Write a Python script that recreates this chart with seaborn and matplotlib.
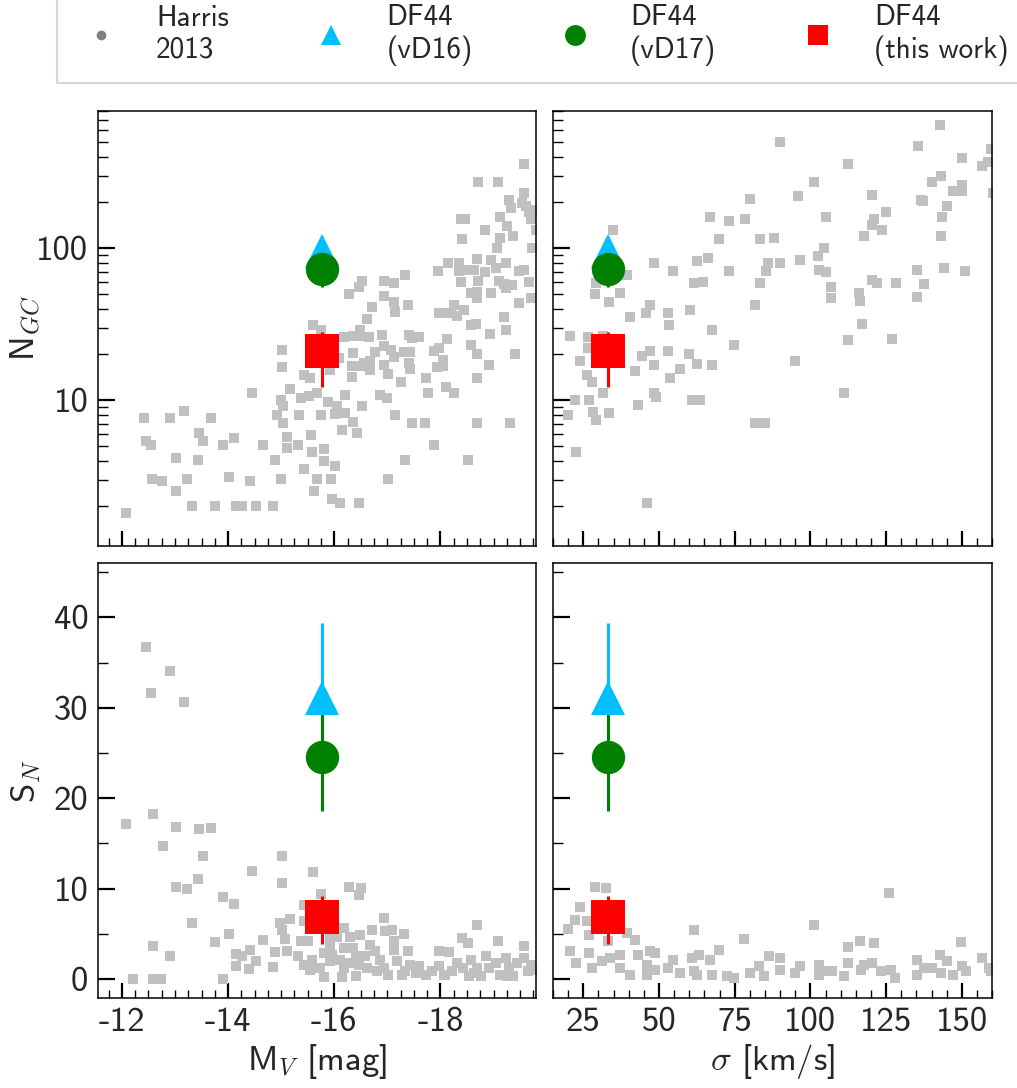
import numpy as np
import pandas as pd
import matplotlib
matplotlib.use("Agg")
import matplotlib.pyplot as plt
import seaborn as sns
from matplotlib.lines import Line2D
from matplotlib.ticker import MultipleLocator, LogLocator, NullFormatter

# Harris 2013 catalogue: (M_V, N_GC)
harris_mv_ngc = [
    (-12.08, 1.82), (-12.42, 7.66), (-12.91, 7.66), (-13.16, 8.55), (-13.68, 7.6), (-12.45, 5.38),
    (-12.55, 5.07), (-13.45, 6.1), (-13.52, 5.38), (-13.90, 5.07), (-14.12, 5.66), (-13.01, 4.14),
    (-13.44, 4.06), (-12.57, 3.03), (-12.76, 2.94), (-13.23, 3.03), (-13.01, 2.53), (-13.32, 2.01),
    (-13.76, 2.01), (-14.14, 2.01), (-14.26, 2.01), (-14.52, 2.01), (-14.84, 2.01), (-14.02, 3.14),
    (-14.42, 2.94), (-14.66, 5.07), (-14.45, 11.2), (-14.89, 4.06), (-15.0, 3.03), (-15.02, 21.3),
    (-15.02, 16.6), (-15.16, 11.8), (-15.0, 10.1), (-15.04, 9.2), (-14.93, 8.05), (-15.04, 7.1),
    (-15.10, 5.74), (-15.10, 4.82), (-15.31, 5.07), (-15.34, 8.05), (-15.37, 10.3), (-15.53, 10.6),
    (-15.68, 11.2), (-15.56, 5.9), (-15.58, 4.56), (-15.80, 4.80), (-15.80, 3.98), (-15.42, 3.54),
    (-15.67, 3.03), (-15.93, 3.03), (-16.02, 3.67), (-15.61, 2.53), (-15.95, 2.23), (-16.11, 2.12),
    (-16.46, 2.12), (-15.75, 8.05), (-15.89, 9.8), (-16.05, 9.2), (-16.02, 8.1), (-16.21, 8.3),
    (-16.15, 6.4), (-16.36, 7.2), (-16.42, 6.1), (-16.21, 10.9), (-16.53, 9.2), (-15.60, 31.4),
    (-15.75, 29.1), (-15.42, 14.7), (-15.55, 14.0), (-15.92, 15.7), (-16.08, 19.1), (-16.18, 26.1),
    (-16.36, 26.4), (-16.49, 29.1), (-16.46, 26.4), (-16.36, 20.5), (-16.33, 16.7), (-16.33, 14.2),
    (-16.49, 16.7), (-16.55, 17.6), (-16.68, 15.7), (-16.68, 18.0), (-16.66, 26.1), (-16.28, 49.9),
    (-16.46, 55.2), (-16.52, 61.1), (-16.71, 40.8), (-16.62, 34.4), (-16.94, 60.5), (-17.12, 59.5),
    (-16.94, 48.4), (-17.12, 44.2), (-17.15, 37.8), (-17.34, 66.3), (-17.38, 42.4), (-16.89, 26.7),
    (-16.93, 22.6), (-17.06, 21.3), (-16.77, 20.9), (-16.93, 17.1), (-17.02, 14.9), (-17.12, 19.4),
    (-17.25, 13.1), (-16.87, 10.8), (-17.0, 10.3), (-17.15, 8.05), (-17.40, 27.0), (-17.47, 25.6),
    (-17.59, 26.0), (-17.31, 20.9), (-17.43, 20.9), (-17.41, 17.6), (-17.43, 16.1), (-17.47, 7.1),
    (-17.71, 7.1), (-17.33, 4.06), (-17.01, 3.03), (-17.73, 14.0), (-17.76, 11.2), (-17.88, 5.07),
    (-17.87, 21.2), (-17.97, 22.1), (-18.05, 18.5), (-17.94, 16.5), (-18.05, 16.7), (-18.13, 25.4),
    (-18.11, 12.2), (-18.25, 11.2), (-17.97, 37.4), (-18.06, 37.4), (-18.19, 37.4), (-18.25, 42.4),
    (-18.32, 35.6), (-18.44, 39.0), (-17.96, 70.4), (-18.15, 79.8), (-18.35, 80.5), (-18.35, 70.4),
    (-18.47, 72.0), (-18.63, 72.0), (-18.39, 59.8), (-18.57, 50.7), (-18.69, 51.9), (-18.69, 47.0),
    (-18.95, 50.7), (-18.69, 84.7), (-18.95, 83.9), (-19.04, 74.0), (-18.84, 69.9), (-19.23, 79.8),
    (-19.10, 60.5), (-19.20, 58.0), (-19.34, 57.4), (-19.23, 54.6), (-19.47, 71.0), (-19.58, 72.0),
    (-19.67, 59.8), (-19.47, 43.4), (-19.70, 47.0), (-19.20, 35.2), (-19.23, 29.1), (-18.93, 27.2),
    (-18.58, 31.4), (-18.66, 31.7), (-18.58, 23.2), (-18.69, 20.2), (-18.91, 17.1), (-18.69, 14.0),
    (-19.40, 20.2), (-18.68, 7.1), (-19.31, 7.1), (-18.52, 4.06), (-18.41, 115), (-18.47, 156),
    (-18.38, 155), (-18.84, 131), (-19.13, 160), (-19.12, 116), (-19.26, 141), (-19.36, 120),
    (-19.06, 100), (-18.71, 274), (-19.08, 271), (-19.58, 361), (-19.29, 208), (-19.32, 183),
    (-19.58, 230), (-19.54, 197), (-19.61, 190), (-19.67, 174), (-19.70, 155), (-19.76, 179),
    (-19.73, 100), (-19.80, 132), (-18.71, 60.5),
]

# Harris 2013: (sigma, N_GC)
harris_sig_ngc = [
    (34.9, 131), (48.4, 79.8), (54.6, 70.4), (62.7, 83.0), (66.3, 86.0), (61.6, 58.9), (64.5, 59.8),
    (67.0, 161), (73.1, 150), (78.3, 155), (69.8, 115), (79.9, 210), (90.1, 501), (83.5, 115),
    (87.9, 116), (73.1, 70.4), (86.0, 80.5), (90.1, 79.8), (85.4, 71.3), (83.2, 58.7), (81.8, 42.3),
    (67.4, 29.1), (74.6, 23.1), (67.5, 17.1), (62.5, 17.3), (59.9, 20.1), (57.0, 16.1), (53.5, 14.1),
    (53.0, 21.2), (53.2, 31.3), (53.0, 37.4), (60.3, 39.0), (47.1, 42.3), (45.7, 37.4), (40.4, 35.2),
    (47.1, 21.2), (44.5, 19.6), (48.2, 17.1), (42.1, 15.6), (48.4, 11.2), (49.1, 10.5), (43.0, 9.3),
    (60.8, 10.0), (63.4, 10.0), (33.6, 8.2), (29.1, 7.4), (28.1, 8.4), (27.0, 10.0), (22.1, 10.0),
    (19.8, 8.05), (22.5, 4.56), (31.4, 11.2), (27.8, 13.1), (26.1, 14.7), (23.9, 18.1), (20.7, 26.6),
    (26.7, 26.1), (26.7, 22.1), (31.4, 26.6), (28.9, 50.1), (33.6, 44.0), (37.1, 50.7), (39.3, 66.8),
    (29.2, 59.5), (46.1, 2.12), (81.8, 7.1), (85.1, 7.1), (95.0, 18.2), (96.0, 219), (101.3, 274),
    (96.5, 83.8), (102.5, 89.5), (104.6, 100), (102.8, 72.0), (105.2, 69.6), (106.7, 55.2),
    (106.9, 47.0), (105.1, 161), (112.5, 361), (111.1, 11.2), (112.4, 25.0), (116.0, 50.7),
    (116.4, 45.3), (116.9, 31.7), (117.7, 120), (120.2, 224), (120.2, 142), (121.0, 156),
    (123.6, 132), (125.1, 174), (120.5, 62.0), (122.1, 59.5), (128.2, 59.5), (127.0, 25.3),
    (135.1, 72.0), (135.1, 48.1), (137.5, 58.0), (135.6, 470), (142.8, 649), (150.2, 393),
    (140.3, 274), (143.0, 300), (147.2, 238), (150.2, 260), (150.2, 239), (137.3, 205), (136.4, 208),
    (145.0, 191), (143.4, 161), (143.0, 120), (144.1, 74.0), (151.1, 71.3), (156.8, 347),
    (158.8, 370), (159.6, 447), (160.4, 230),
]

# Harris 2013: (M_V, S_N)
harris_mv_sn = [
    (-12.45, 36.7), (-12.91, 34.1), (-12.55, 31.6), (-13.16, 30.6), (-12.08, 17.1), (-12.58, 18.2),
    (-13.01, 16.8), (-13.45, 16.6), (-13.68, 16.7), (-12.77, 14.7), (-13.52, 13.6), (-13.01, 10.2),
    (-13.23, 10.0), (-13.44, 11.1), (-13.32, 6.2), (-12.58, 3.65), (-12.91, 2.6), (-12.21, 0.0),
    (-12.59, 0.0), (-12.74, 0.0), (-13.91, 0.0), (-13.90, 9.07), (-14.12, 8.33), (-13.75, 4.1),
    (-14.02, 5.0), (-14.45, 12.0), (-15.02, 13.6), (-15.02, 10.6), (-15.60, 11.8), (-15.75, 9.4),
    (-16.28, 10.2), (-16.51, 10.1), (-16.46, 9.3), (-14.66, 4.35), (-14.42, 3.2), (-14.52, 2.0),
    (-14.14, 2.8), (-14.26, 2.5), (-14.15, 1.4), (-14.39, 1.1), (-14.84, 1.36), (-14.89, 2.95),
    (-15.01, 5.46), (-15.17, 6.6), (-14.97, 6.2), (-15.08, 4.4), (-15.10, 3.06), (-15.31, 2.5),
    (-15.37, 4.17), (-15.51, 4.17), (-15.43, 8.15), (-15.42, 6.4), (-15.42, 1.6), (-15.58, 2.1),
    (-15.73, 1.2), (-15.80, 0.2), (-15.92, 4.5), (-16.05, 4.6), (-16.18, 5.6), (-16.14, 0.2),
    (-15.80, 2.9), (-15.95, 2.7), (-16.11, 2.1), (-16.18, 1.2), (-16.30, 4.7), (-16.36, 3.4),
    (-16.40, 0.3), (-16.46, 1.6), (-16.49, 4.9), (-16.58, 2.5), (-16.68, 3.8), (-16.71, 5.46),
    (-16.77, 3.06), (-16.87, 2.1), (-16.93, 6.7), (-16.93, 1.2), (-17.02, 0.5), (-16.96, 5.3),
    (-17.09, 5.46), (-17.13, 4.17), (-17.13, 3.2), (-17.18, 1.95), (-17.31, 5.0), (-17.34, 0.85),
    (-17.38, 3.1), (-17.43, 1.6), (-17.53, 0.66), (-17.59, 1.4), (-17.72, 0.4), (-17.84, 0.85),
    (-17.97, 3.1), (-17.97, 1.4), (-18.06, 0.5), (-18.16, 2.95), (-18.22, 0.85), (-18.32, 1.77),
    (-18.41, 4.5), (-18.43, 1.2), (-18.51, 4.0), (-18.54, 0.3), (-18.57, 2.1), (-18.69, 6.0),
    (-18.69, 1.2), (-18.76, 0.3), (-18.85, 2.5), (-18.91, 1.2), (-19.04, 1.77), (-19.08, 4.17),
    (-19.13, 0.5), (-19.23, 2.3), (-19.29, 1.2), (-19.36, 0.3), (-19.45, 1.77), (-19.58, 3.6),
    (-19.58, 2.3), (-19.64, 0.85), (-19.70, 1.6), (-19.76, 1.0), (-15.92, 3.4), (-15.92, 1.95),
    (-16.30, 1.77), (-16.62, 1.2), (-16.81, 0.85), (-17.28, 0.5), (-18.09, 0.5), (-18.63, 0.66),
    (-19.26, 0.3), (-15.55, 1.0), (-16.18, 3.4), (-16.40, 2.5),
]

# Harris 2013: (sigma, S_N)
harris_sig_sn = [
    (28.9, 10.2), (32.4, 10.1), (23.9, 8.0), (22.2, 6.5), (26.1, 6.4), (19.8, 5.5), (27.0, 4.9),
    (20.6, 3.06), (22.5, 1.77), (27.0, 2.9), (27.8, 1.2), (31.1, 1.95), (33.3, 4.17), (33.8, 2.3),
    (37.1, 2.7), (37.1, 1.2), (39.3, 5.1), (42.1, 4.35), (40.4, 0.5), (43.0, 2.7), (46.0, 1.6),
    (46.0, 0.5), (47.1, 3.06), (48.7, 2.9), (48.7, 1.0), (53.1, 1.2), (54.5, 2.1), (57.0, 0.66),
    (60.8, 2.3), (63.1, 2.7), (61.6, 5.46), (61.4, 0.85), (62.5, 0.5), (66.7, 2.1), (67.5, 0.4),
    (69.9, 3.24), (72.4, 0.3), (74.6, 0.1), (78.2, 4.46), (80.2, 0.66), (82.9, 1.4), (84.6, 0.3),
    (86.2, 2.5), (90.1, 2.3), (90.1, 1.0), (95.0, 0.66), (96.4, 1.4), (101.3, 6.0), (102.8, 1.6),
    (102.8, 0.4), (105.0, 0.85), (107.2, 0.85), (111.0, 0.3), (112.5, 3.54), (112.5, 1.77),
    (116.3, 4.24), (116.6, 1.0), (117.7, 1.6), (120.2, 1.77), (120.9, 4.0), (123.2, 0.85),
    (125.9, 9.5), (126.5, 1.0), (128.1, 0.1), (135.3, 2.1), (135.3, 0.5), (137.5, 1.2), (140.3, 1.2),
    (142.8, 2.7), (143.0, 0.66), (145.2, 1.95), (147.2, 0.5), (149.8, 4.1), (150.2, 1.4),
    (151.3, 0.85), (156.8, 2.3), (159.0, 1.2), (159.6, 0.85),
]

# DF44 measurements
df44_src = ["DF44\n(vD16)", "DF44\n(vD17)", "DF44\n(this work)"]
df44_mv = [-15.76, -15.76, -15.76]
df44_sig = [33.3, 33.3, 33.3]
df44_ngc = [96, 73, 21]
df44_ngc_lo = [20, 17, 8.8]
df44_ngc_hi = [23, 18, 7]
df44_sn = [31.1, 24.6, 6.9]
df44_sn_lo = [8.0, 6.0, 3.05]
df44_sn_hi = [8.3, 6.0, 2.3]
df44_color = ["deepskyblue", "green", "red"]
df44_marker = ["^", "o", "s"]

sns.set_style("ticks")
plt.rcParams["font.family"] = ["cmss10", "DejaVu Sans"]
plt.rcParams["mathtext.fontset"] = "cm"
plt.rcParams["axes.unicode_minus"] = False

FS = 25      # ticks and axis labels
FS_LEG = 21  # legend

fig = plt.figure(figsize=(10.17, 10.88), dpi=100)
ax_tl = fig.add_axes([0.0964, 0.4982, 0.4307, 0.3998])
ax_tr = fig.add_axes([0.5438, 0.4982, 0.4317, 0.3998])
ax_bl = fig.add_axes([0.0964, 0.0827, 0.4307, 0.3998])
ax_br = fig.add_axes([0.5438, 0.0827, 0.4317, 0.3998])

panels = [
    (ax_tl, pd.DataFrame(harris_mv_ngc, columns=["x", "y"]), df44_mv, df44_ngc, df44_ngc_lo, df44_ngc_hi),
    (ax_tr, pd.DataFrame(harris_sig_ngc, columns=["x", "y"]), df44_sig, df44_ngc, df44_ngc_lo, df44_ngc_hi),
    (ax_bl, pd.DataFrame(harris_mv_sn, columns=["x", "y"]), df44_mv, df44_sn, df44_sn_lo, df44_sn_hi),
    (ax_br, pd.DataFrame(harris_sig_sn, columns=["x", "y"]), df44_sig, df44_sn, df44_sn_lo, df44_sn_hi),
]

for ax, harris, xs, ys, lo, hi in panels:
    sns.scatterplot(data=harris, x="x", y="y", ax=ax, marker="s", s=55,
                    color="#c0c0c0", linewidth=0, zorder=1)
    # error bars first, markers on top of all bars
    for i in range(3):
        ax.errorbar([xs[i]], [ys[i]], yerr=[[lo[i]], [hi[i]]], fmt="none",
                    ecolor=df44_color[i], elinewidth=2.2, capsize=0, zorder=2)
    for i in range(3):
        ax.plot([xs[i]], [ys[i]], ls="none", marker=df44_marker[i], ms=24,
                color=df44_color[i], markeredgewidth=0, zorder=3)
    ax.set_xlabel("")
    ax.set_ylabel("")
    for sp in ax.spines.values():
        sp.set_linewidth(1.1)
        sp.set_color("black")
    ax.tick_params(which="both", direction="in", top=False, right=False,
                   labelsize=FS, color="black")
    ax.tick_params(axis="y", which="major", length=12, width=1.6, pad=7)
    ax.tick_params(axis="y", which="minor", length=7.5, width=1.0)
    ax.tick_params(axis="x", which="major", length=11, width=1.6, pad=6.5)
    ax.tick_params(axis="x", which="minor", length=5.5, width=1.0)

for ax in (ax_tl, ax_tr):
    ax.set_yscale("log")
    ax.set_ylim(1.1, 800)
    ax.yaxis.set_major_locator(LogLocator(base=10))
    ax.yaxis.set_minor_locator(LogLocator(base=10, subs=np.arange(2, 10)))
    ax.yaxis.set_minor_formatter(NullFormatter())
    ax.set_yticks([10, 100], labels=["10", "100"])
    ax.tick_params(labelbottom=False)

for ax in (ax_bl, ax_br):
    ax.set_ylim(-2.1, 46)
    ax.set_yticks([0, 10, 20, 30, 40], labels=["0", "10", "20", "30", "40"])
    ax.yaxis.set_minor_locator(MultipleLocator(5))

for ax in (ax_tl, ax_bl):
    ax.set_xlim(-11.55, -19.8)
    ax.set_xticks([-12, -14, -16, -18])
    ax.xaxis.set_minor_locator(MultipleLocator(0.25))

for ax in (ax_tr, ax_br):
    ax.set_xlim(15, 160)
    ax.set_xticks([25, 50, 75, 100, 125, 150])
    ax.xaxis.set_minor_locator(MultipleLocator(5))
    ax.tick_params(labelleft=False)

ax_bl.set_xticks([-12, -14, -16, -18], labels=["-12", "-14", "-16", "-18"])

ax_tl.set_ylabel(r"N$_{GC}$", fontsize=FS)
ax_bl.set_ylabel(r"S$_N$", fontsize=FS)
ax_bl.set_xlabel(r"M$_V$ [mag]", fontsize=FS)
ax_br.set_xlabel(r"$\sigma$ [km/s]", fontsize=FS)
for ax in (ax_tl, ax_bl):
    ax.yaxis.set_label_coords(-0.126, 0.5)
for ax in (ax_bl, ax_br):
    ax.xaxis.set_label_coords(0.5, -0.1)

handles = [Line2D([], [], ls="none", marker="o", color="gray", ms=7, markeredgewidth=0)]
for i in range(3):
    handles.append(Line2D([], [], ls="none", marker=df44_marker[i], ms=15,
                          color=df44_color[i], markeredgewidth=0))
labels = ["Harris\n2013"] + df44_src
leg = fig.legend(handles, labels, loc="lower left", bbox_to_anchor=(0.056, 0.9237),
                 ncol=4, fontsize=FS_LEG, frameon=True, fancybox=False, borderaxespad=0,
                 borderpad=0.6, handlelength=1.8, handletextpad=1.0, columnspacing=2.6,
                 framealpha=1)
leg.get_frame().set_edgecolor("#d6d6d6")
leg.get_frame().set_linewidth(1.5)

fig.savefig("out.png", dpi=100)
